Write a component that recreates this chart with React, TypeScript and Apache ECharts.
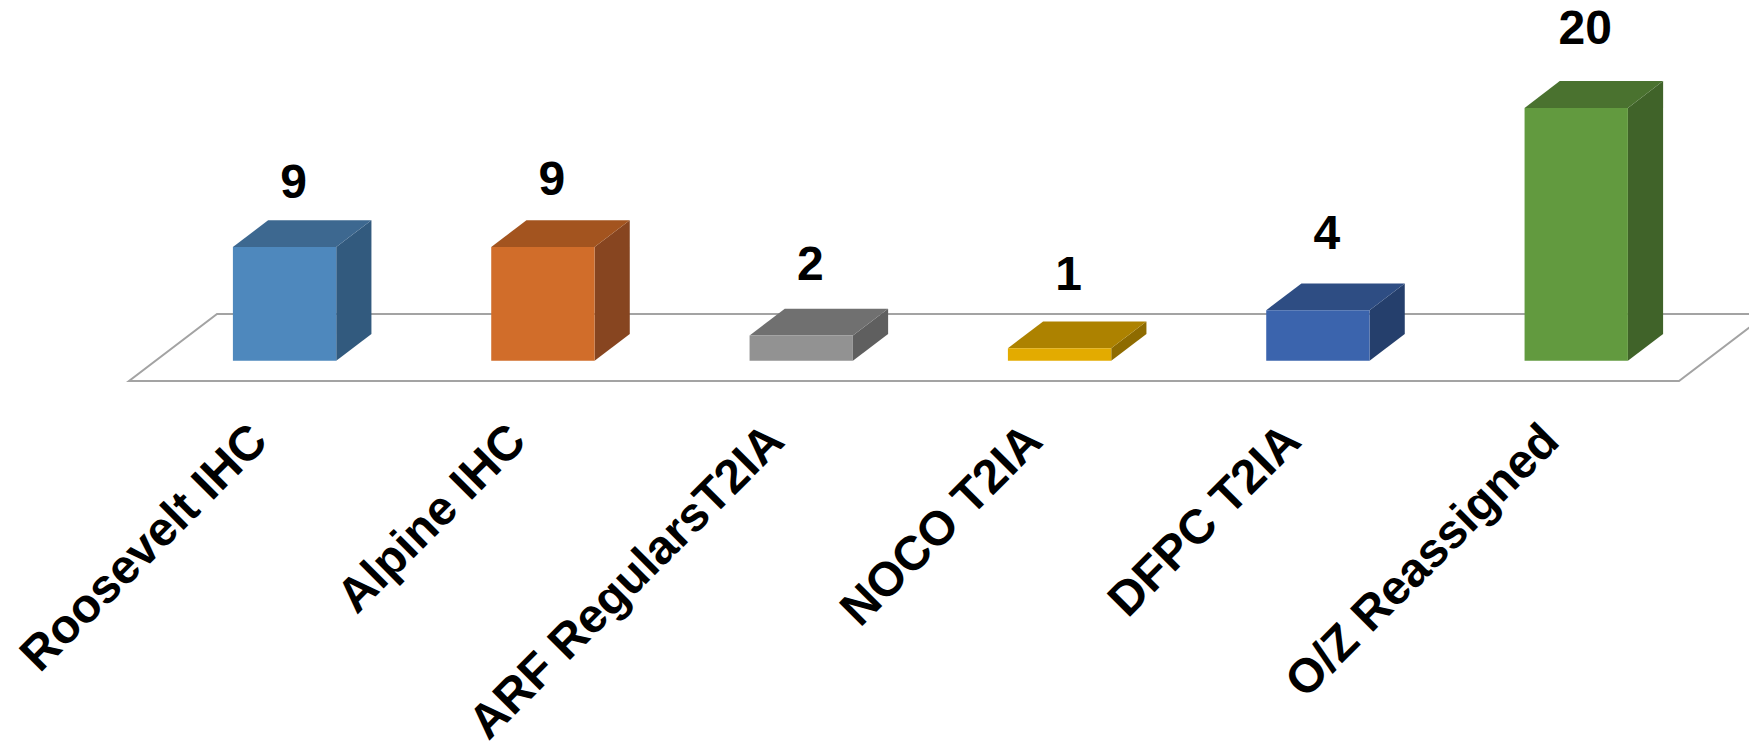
import React, { useEffect, useRef } from "react";
import * as echarts from "echarts";

const categories = [
  "Roosevelt IHC",
  "Alpine IHC",
  "ARF RegularsT2IA",
  "NOCO T2IA",
  "DFPC T2IA",
  "O/Z Reassigned",
];
const values = [9, 9, 2, 1, 4, 20];

const frontColors = ["#4E88BD", "#D16D2A", "#929292", "#E3AB00", "#3B64AD", "#629A3F"];
const topColors = ["#3D6890", "#A3541F", "#707070", "#AD8200", "#2E4D83", "#4A722F"];
const sideColors = ["#325A7E", "#874520", "#5F5F5F", "#8E6B00", "#253F6C", "#406329"];

const FONT = '"Liberation Sans", Arial, Helvetica, sans-serif';
const FLOOR_DX = 88;
const FLOOR_DY = -67;
const FRONT_F = 0.3;
const BACK_F = 0.7;
const BAR_RATIO = 0.4;

export default function App() {
  const ref = useRef<HTMLDivElement>(null);

  useEffect(() => {
    if (!ref.current) return;
    const chart = echarts.init(ref.current, null, { renderer: "svg" });

    const renderItem = (params: any, api: any) => {
      const i = api.value(0);
      const v = api.value(1);
      const base = api.coord([i, 0]);
      const topP = api.coord([i, v]);
      const band = api.size([1, 0])[0];
      const w = band * BAR_RATIO;
      const h = base[1] - topP[1];
      const fx = base[0] - w / 2 + FRONT_F * FLOOR_DX;
      const fy = base[1] + FRONT_F * FLOOR_DY;
      const ddx = (BACK_F - FRONT_F) * FLOOR_DX;
      const ddy = (BACK_F - FRONT_F) * FLOOR_DY;
      const children: any[] = [];

      if (params.dataIndex === 0) {
        const cs = params.coordSys;
        const y0 = base[1];
        const x0 = cs.x;
        const x1 = cs.x + cs.width;
        children.push({
          type: "polygon",
          shape: {
            points: [
              [x0, y0],
              [x1, y0],
              [x1 + FLOOR_DX, y0 + FLOOR_DY],
              [x0 + FLOOR_DX, y0 + FLOOR_DY],
            ],
          },
          style: { fill: "#ffffff", stroke: "#A3A3A3", lineWidth: 2 },
        });
      }

      const ty = fy - h;
      children.push({
        type: "polygon",
        shape: {
          points: [
            [fx + w, ty],
            [fx + w, fy],
            [fx + w + ddx, fy + ddy],
            [fx + w + ddx, ty + ddy],
          ],
        },
        style: { fill: sideColors[i] },
      });
      children.push({
        type: "polygon",
        shape: {
          points: [
            [fx, ty],
            [fx + w, ty],
            [fx + w + ddx, ty + ddy],
            [fx + ddx, ty + ddy],
          ],
        },
        style: { fill: topColors[i] },
      });
      children.push({
        type: "rect",
        shape: { x: fx, y: ty, width: w, height: h },
        style: { fill: frontColors[i] },
      });
      children.push({
        type: "text",
        style: {
          text: String(v),
          x: fx + w / 2 + 9,
          y: ty - (65.6 + 3.04 * i),
          fill: "#000000",
          fontSize: 48,
          fontWeight: "bold",
          fontFamily: FONT,
          align: "center",
          verticalAlign: "middle",
        },
      });
      return { type: "group", children };
    };

    chart.setOption({
      animation: false,
      backgroundColor: "#ffffff",
      grid: { left: 129, right: 70, top: 1.5, bottom: 368, containLabel: false },
      xAxis: {
        type: "category",
        data: categories,
        axisLine: { show: false },
        axisTick: { show: false },
        splitLine: { show: false },
        axisLabel: {
          interval: 0,
          rotate: 45,
          margin: 51,
          color: "#000000",
          fontSize: 48,
          fontWeight: "bold",
          fontFamily: FONT,
        },
      },
      yAxis: { type: "value", min: 0, max: 30, show: false },
      series: [
        {
          type: "custom",
          clip: false,
          data: values.map((v, i) => [i, v]),
          renderItem,
        },
      ],
    });

    return () => chart.dispose();
  }, []);

  return (
    <div
      ref={ref}
      style={{ position: "fixed", left: 0, top: 0, width: 1749, height: 749 }}
    />
  );
}
